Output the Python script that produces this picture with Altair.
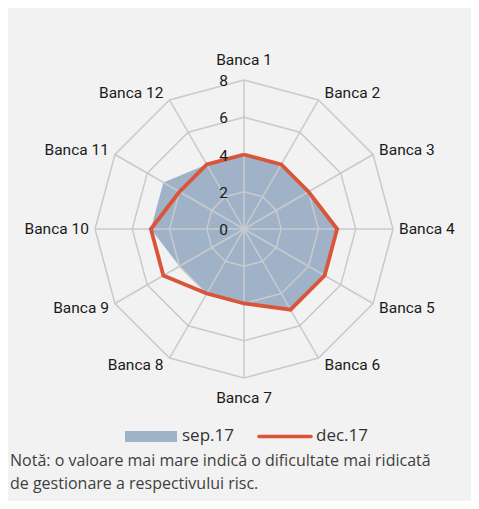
import altair as alt
import pandas as pd

banks = ["Banca 1", "Banca 2", "Banca 3", "Banca 4", "Banca 5", "Banca 6",
         "Banca 7", "Banca 8", "Banca 9", "Banca 10", "Banca 11", "Banca 12"]
sep17 = [4, 4, 4, 5, 5, 5, 4, 4, 4, 5, 5, 4]
dec17 = [4, 4, 4, 5, 5, 5, 4, 4, 5, 5, 4, 4]
ticks = [0, 2, 4, 6, 8]
series_names = ["sep.17", "dec.17"]
note = "Notă: o valoare mai mare indică o dificultate mai ridicată\nde gestionare a respectivului risc."

RMAX = ticks[-1]
N = len(banks)

# tables built from the arrays
rows = []
for name, vals in zip(series_names, (sep17, dec17)):
    for i in range(N + 1):
        rows.append({"series": name, "idx": i, "value": vals[i % N]})
series_df = pd.DataFrame(rows)

grid_df = pd.DataFrame([{"level": l, "idx": i} for l in ticks[1:] for i in range(N + 1)])
spoke_df = pd.DataFrame([{"bank": b, "idx": i, "r": r} for i, b in enumerate(banks) for r in (0, RMAX)])
label_df = pd.DataFrame({"bank": banks, "idx": list(range(N))})
tick_df = pd.DataFrame({"tick": ticks})

W, H = 463, 493
PX = 18.625          # pixels per unit
CX, CY = 236, 221    # centre inside the chart
X = alt.Scale(domain=[-CX / PX, (W - CX) / PX], nice=False, zero=False)
Y = alt.Scale(domain=[-(H - CY) / PX, CY / PX], nice=False, zero=False)

ANG = f"PI*datum.idx*2/{N}"
GRID_C = "#c9cace"
BLUE = "#9fb2c7"
RED = "#d9553a"
LABEL_FONT = "Roboto, Liberation Sans, sans-serif"
LABEL_SIZE = 15.5
NOTE_FONT = "Open Sans, Noto Sans, sans-serif"

XE = alt.X("x:Q", scale=X, axis=None)
YE = alt.Y("y:Q", scale=Y, axis=None)

base_series = alt.Chart(series_df)

area = base_series.mark_line(filled=True, fill=BLUE, strokeWidth=0, opacity=1).transform_filter(
    alt.datum.series == series_names[0]).transform_calculate(
    x=f"datum.value*sin({ANG})", y=f"datum.value*cos({ANG})").encode(
    x=XE, y=YE, order=alt.Order("idx:Q"))

grid = alt.Chart(grid_df).mark_line(stroke=GRID_C, strokeWidth=1.5).transform_calculate(
    x=f"datum.level*sin({ANG})", y=f"datum.level*cos({ANG})").encode(
    x=XE, y=YE, detail="level:N", order=alt.Order("idx:Q"))

spokes = alt.Chart(spoke_df).mark_line(stroke=GRID_C, strokeWidth=1.5).transform_calculate(
    x=f"datum.r*sin({ANG})", y=f"datum.r*cos({ANG})").encode(
    x=XE, y=YE, detail="bank:N", order=alt.Order("r:Q"))

line = base_series.mark_line(stroke=RED, strokeWidth=3.8, strokeJoin="miter").transform_filter(
    alt.datum.series == series_names[1]).transform_calculate(
    x=f"datum.value*sin({ANG})", y=f"datum.value*cos({ANG})").encode(
    x=XE, y=YE, order=alt.Order("idx:Q"))

tick_text = alt.Chart(tick_df).mark_text(
    align="right", baseline="middle", dx=-16, dy=1, font=LABEL_FONT, fontSize=LABEL_SIZE, color="#1a1a1a"
).transform_calculate(x="0", y="datum.tick").encode(x=XE, y=YE, text="tick:Q")


def bank_layer(cond, align, dx, k):
    return alt.Chart(label_df).mark_text(
        align=align, baseline="middle", dx=dx, font=LABEL_FONT, fontSize=LABEL_SIZE, color="#1a1a1a"
    ).transform_filter(cond).transform_calculate(
        x=f"{RMAX}*sin({ANG})", y=f"({RMAX}+{k})*cos({ANG})"
    ).encode(x=XE, y=YE, text="bank:N")


half = N // 2
lab_c = bank_layer(f"datum.idx == 0 || datum.idx == {half}", "center", 0, 1.08)
lab_l = bank_layer(f"datum.idx > 0 && datum.idx < {half}", "left", 6, 0.43)
lab_r = bank_layer(f"datum.idx > {half}", "right", -6, 0.43)

leg_df = pd.DataFrame({"series": series_names})
leg_rect = alt.Chart(leg_df).mark_rect(color=BLUE).transform_filter(
    alt.datum.series == series_names[0]).encode(
    x=alt.value(117), x2=alt.value(169), y=alt.value(423), y2=alt.value(434))
leg_rule = alt.Chart(leg_df).mark_rule(color=RED, strokeWidth=3.5, strokeCap="round").transform_filter(
    alt.datum.series == series_names[1]).encode(
    x=alt.value(251), x2=alt.value(303), y=alt.value(428.5))
leg_t1 = alt.Chart(leg_df).mark_text(align="left", baseline="middle", font=NOTE_FONT, fontSize=17,
                                     color="#333333").transform_filter(
    alt.datum.series == series_names[0]).encode(x=alt.value(174), y=alt.value(428), text="series:N")
leg_t2 = alt.Chart(leg_df).mark_text(align="left", baseline="middle", font=NOTE_FONT, fontSize=17,
                                     color="#333333").transform_filter(
    alt.datum.series == series_names[1]).encode(x=alt.value(308), y=alt.value(428), text="series:N")

note_df = pd.DataFrame({"note": [note]})
note_text = alt.Chart(note_df).mark_text(
    align="left", baseline="top", lineBreak="\n", lineHeight=23, font=NOTE_FONT, fontSize=16,
    color="#404040"
).encode(x=alt.value(2), y=alt.value(445), text="note:N")

chart = alt.layer(
    area, grid, spokes, line, tick_text, lab_c, lab_l, lab_r,
    leg_rect, leg_rule, leg_t1, leg_t2, note_text
).properties(
    width=W, height=H, autosize=alt.AutoSizeParams(type="none"), padding=0,
    background="#f2f2f2"
).configure_view(strokeWidth=0)

chart.save("out.html", embed_options={"renderer": "svg", "actions": False})
